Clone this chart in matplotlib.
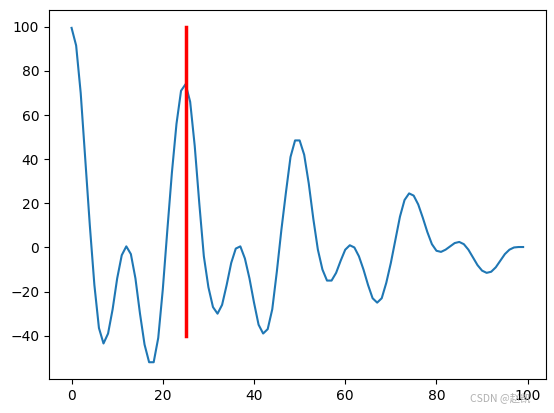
import matplotlib
matplotlib.use("Agg")
import matplotlib.pyplot as plt
import numpy as np

x = list(range(100))
y = [99.5, 91.5, 70, 40, 10, -17, -36.5, -43.5, -39, -28,
     -14, -3.5, 0.5, -3, -14, -30, -44, -52, -52, -41,
     -19, 8, 34, 56, 71, 74, 66, 46, 20, -4,
     -18, -27, -30, -26, -17, -7, -0.5, 0.5, -5, -14,
     -25, -35, -39, -37, -28, -11, 8, 25, 41, 48.5,
     48.5, 42, 29, 13, -1, -10, -15, -15, -11.5, -6,
     -1, 1, 0, -4, -10, -17, -23, -25, -23, -16,
     -7, 3.5, 14, 21.5, 24.5, 23.5, 19.5, 13.5, 7, 1.5,
     -1.5, -2, -1, 0.5, 2, 2.5, 1.5, -1, -4.5, -8,
     -10.5, -11.5, -11, -9, -6, -3, -1, 0, 0.2, 0.2]
marker_x = [25, 25]
marker_y = [-40, 100]

fig = plt.figure(figsize=(5.54, 4.13), dpi=100)
ax = fig.add_axes([49/554, 1-379/413, (545.7-49)/554, 369/413])
ax.plot(x, y)
ax.plot(marker_x, marker_y, color="red", linewidth=2.5)
fig.text(470/554, 1-398/413, "CSDN @赵凯", color="#b0b0b0", fontsize=7.5,
         family=["Noto Sans CJK SC", "DejaVu Sans"], va="center")
fig.savefig("out.png", dpi=100)
